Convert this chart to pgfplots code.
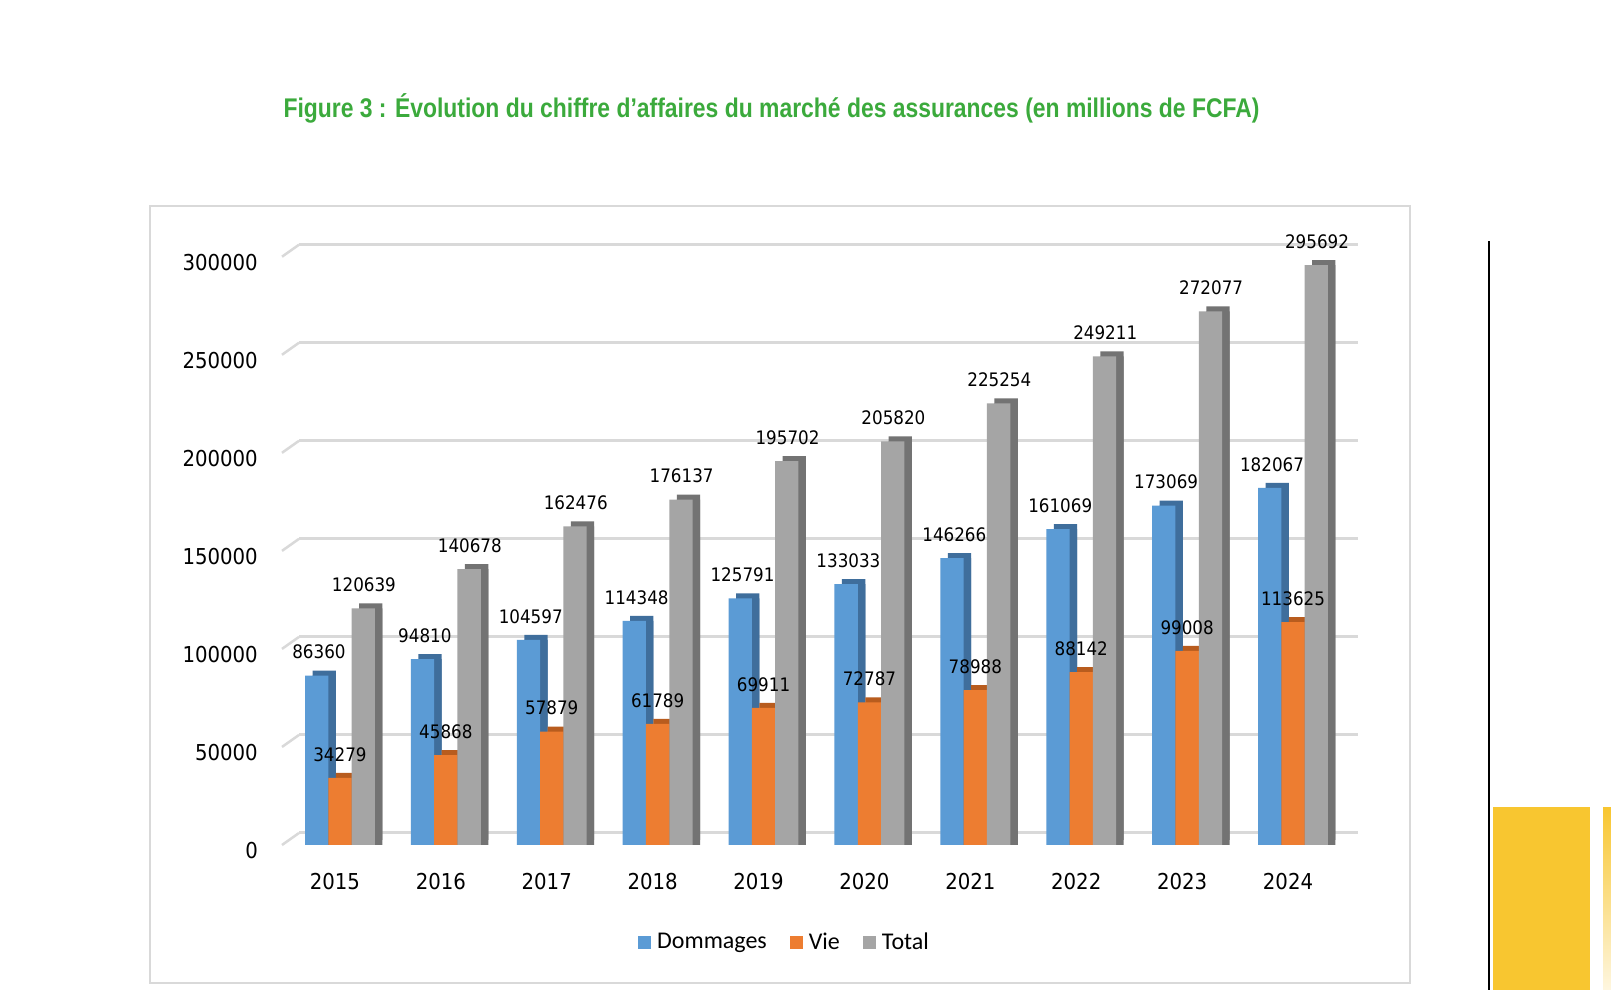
\documentclass[border=0pt]{standalone}
\usepackage{fontspec}
\usepackage{graphicx}
\usepackage{pgfplots}
\pgfplotsset{compat=1.18}
\usepackage{pgfplotstable}
\setmainfont{Carlito}
\newfontfamily\lblfont[FakeStretch=0.9]{DejaVu Sans}
\newfontfamily\titlefont{Liberation Sans}
\definecolor{cdom}{HTML}{5B9BD5}
\definecolor{cdomd}{HTML}{3F6E9C}
\definecolor{cvie}{HTML}{ED7D31}
\definecolor{cvied}{HTML}{B85C1E}
\definecolor{ctot}{HTML}{A5A5A5}
\definecolor{ctotd}{HTML}{737373}
\definecolor{gridc}{HTML}{D9D9D9}
\definecolor{titlegreen}{HTML}{3BAA3C}
\definecolor{yel}{HTML}{F8C630}

\pgfplotstableread{
x dom vie tot
0 86360 34279 120639
1 94810 45868 140678
2 104597 57879 162476
3 114348 61789 176137
4 125791 69911 195702
5 133033 72787 205820
6 146266 78988 225254
7 161069 88142 249211
8 173069 99008 272077
9 182067 113625 295692
}\data

\begin{document}
\begin{tikzpicture}
\path[use as bounding box] (0pt,0pt) rectangle (1611pt,990pt);
\fill[white] (0pt,0pt) rectangle (1611pt,990pt);
\draw[gridc, line width=2pt] (150pt,7pt) rectangle (1409.6pt,783.5pt);
\node[text=titlegreen, inner sep=0pt] at (771.5pt,882pt) {\resizebox{976pt}{\height}{\titlefont\bfseries\fontsize{27}{30}\selectfont Figure 3 : Évolution du chiffre d’affaires du marché des assurances (en millions de FCFA)}};
\draw[black, line width=1.5pt] (1489pt,0pt) -- (1489pt,749pt);
\fill[yel] (1493pt,0pt) rectangle (1590pt,182.5pt);
\shade[top color=yel, bottom color=yel!15] (1603pt,0pt) rectangle (1611pt,182.5pt);

\begin{axis}[
  at={(282pt,145pt)}, anchor=south west,
  scale only axis, width=1059pt, height=607.9pt,
  xmin=-0.5, xmax=9.5, ymin=0, ymax=310000,
  clip=false,
  axis line style={draw=none},
  major tick length=0pt,
  scaled y ticks=false,
  xtick={0,...,9},
  xticklabels={2015,2016,2017,2018,2019,2020,2021,2022,2023,2024},
  ytick={0,50000,100000,150000,200000,250000,300000},
  yticklabels={0,50000,100000,150000,200000,250000,300000},
  ticklabel style={font=\lblfont\fontsize{21.9}{22}\selectfont, text=black},
  yticklabel style={anchor=east, inner sep=0pt, xshift=-24pt, yshift=-6pt},
  xticklabel style={anchor=north, inner sep=0pt, yshift=-28.5pt},
  ymajorgrids,
  major grid style={gridc, line width=3pt, xshift=17pt, yshift=12pt},
  legend style={at={(axis description cs:0.4736,-0.1596)}, anchor=center,
    draw=none, fill=none, legend columns=-1,
    font=\fontsize{24}{25}\selectfont,
    nodes={inner sep=0pt},
    /tikz/every odd column/.append style={column sep=6pt},
    /tikz/every even column/.append style={column sep=23pt}},
  legend image code/.code={\fill[#1] (0pt,-6.5pt) rectangle (13pt,6.5pt);},
  nodes near coords style={font=\lblfont\fontsize{18.6}{19}\selectfont, text=black, inner sep=0pt, anchor=south, yshift=16.3pt},
]
\pgfplotsinvokeforeach{0,50000,100000,150000,200000,250000,300000}{
  \draw[gridc, line width=2.5pt] (axis cs:-0.5,#1) -- ++(17pt,12pt);
}
% Dommages
\addplot[ybar, bar width=23.3pt, bar shift=-10.8pt, fill=cdomd, draw=none, forget plot] table[x=x,y=dom]{\data};
\addplot[ybar, bar width=23.3pt, bar shift=-10.8pt, fill=cdomd, draw=none, forget plot, yshift=5pt] table[x=x,y=dom]{\data};
\addplot[ybar, bar width=23.3pt, bar shift=-18.3pt, fill=cdom, draw=none,
  nodes near coords, point meta=explicit symbolic,
  every node near coord/.append style={xshift=-16pt}] table[x=x,y=dom,meta=dom]{\data};
\addlegendentry{Dommages}
% Vie
\addplot[ybar, bar width=23.3pt, bar shift=12.5pt, fill=cvied, draw=none, forget plot] table[x=x,y=vie]{\data};
\addplot[ybar, bar width=23.3pt, bar shift=12.5pt, fill=cvied, draw=none, forget plot, yshift=5pt] table[x=x,y=vie]{\data};
\addplot[ybar, bar width=23.3pt, bar shift=5pt, fill=cvie, draw=none,
  nodes near coords, point meta=explicit symbolic,
  every node near coord/.append style={xshift=5pt}] table[x=x,y=vie,meta=vie]{\data};
\addlegendentry{Vie}
% Total
\addplot[ybar, bar width=23.3pt, bar shift=35.8pt, fill=ctotd, draw=none, forget plot] table[x=x,y=tot]{\data};
\addplot[ybar, bar width=23.3pt, bar shift=35.8pt, fill=ctotd, draw=none, forget plot, yshift=5pt] table[x=x,y=tot]{\data};
\addplot[ybar, bar width=23.3pt, bar shift=28.3pt, fill=ctot, draw=none,
  nodes near coords, point meta=explicit symbolic,
  every node near coord/.append style={xshift=29pt}] table[x=x,y=tot,meta=tot]{\data};
\addlegendentry{Total}
\end{axis}
\end{tikzpicture}
\end{document}
